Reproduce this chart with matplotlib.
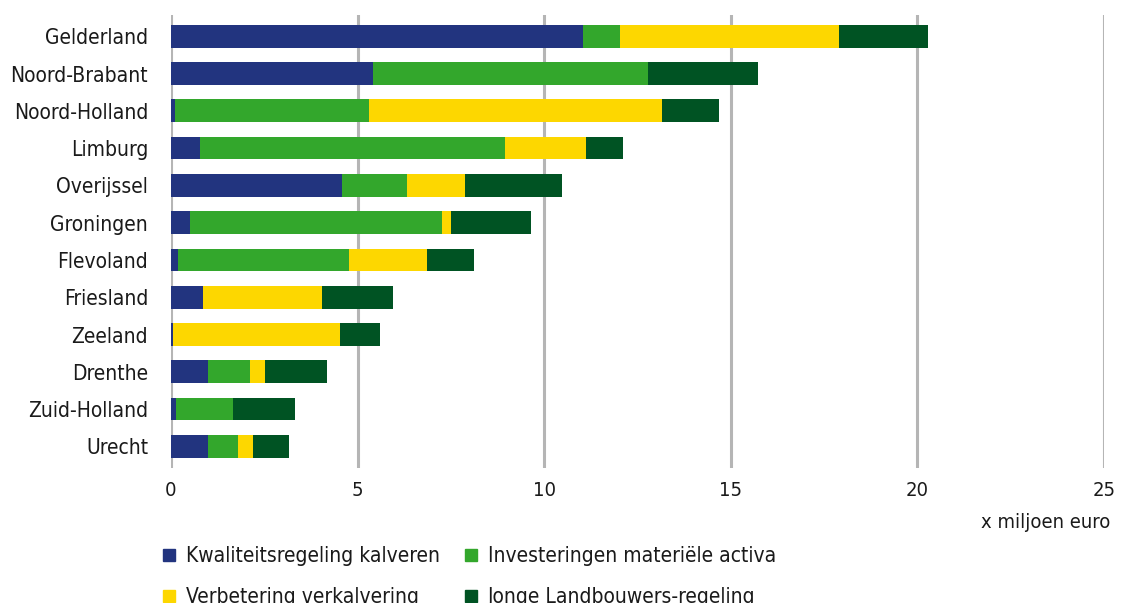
import numpy as np
import matplotlib.pyplot as plt
from matplotlib.lines import Line2D

provinces = ["Gelderland", "Noord-Brabant", "Noord-Holland", "Limburg", "Overijssel",
             "Groningen", "Flevoland", "Friesland", "Zeeland", "Drenthe",
             "Zuid-Holland", "Urecht"]
kwaliteit = [11.04, 5.42, 0.11, 0.77, 4.57, 0.51, 0.19, 0.86, 0.05, 0.99, 0.13, 0.99]
investering = [0.99, 7.36, 5.20, 8.19, 1.76, 6.74, 4.57, 0.0, 0.0, 1.12, 1.53, 0.80]
verkalvering = [5.88, 0.0, 7.85, 2.16, 1.55, 0.26, 2.11, 3.18, 4.47, 0.40, 0.0, 0.40]
jonge = [2.38, 2.94, 1.52, 0.99, 2.60, 2.14, 1.26, 1.92, 1.07, 1.66, 1.66, 0.97]

series = [
    ("Kwaliteitsregeling kalveren", kwaliteit, "#22347f"),
    ("Investeringen materiële activa", investering, "#33a72c"),
    ("Verbetering verkalvering", verkalvering, "#fdd700"),
    ("Jonge Landbouwers-regeling", jonge, "#005323"),
]

plt.rcParams['font.family'] = ['DejaVu Sans']
plt.rcParams['font.stretch'] = 'condensed'
plt.rcParams['font.size'] = 14.5

fig = plt.figure(figsize=(11.22, 6.03), dpi=100)
ax = fig.add_axes([171 / 1122, 1 - 468 / 603, (1104 - 171) / 1122, (468 - 15) / 603])

y = np.arange(len(provinces))
left = np.zeros(len(provinces))
for name, vals, color in series:
    vals = np.array(vals)
    ax.barh(y, vals, left=left, height=0.61, color=color, zorder=3)
    left += vals

ax.set_xlim(0, 25)
ax.set_ylim(11.58, -0.57)
ax.set_xticks(range(0, 26, 5))
ax.set_yticks(y)
ax.set_yticklabels(provinces, fontsize=15)
ax.tick_params(axis='x', length=0, pad=9, labelsize=14.5, labelcolor='#1a1a1a')
ax.tick_params(axis='y', length=0, pad=16.5, labelcolor='#1a1a1a')
ax.grid(axis='x', color='#b5b5b5', linewidth=2.2, zorder=0)
for s in ax.spines.values():
    s.set_visible(False)

fig.text(1110 / 1122, 1 - 522 / 603, "x miljoen euro", ha='right', va='center',
         fontsize=14.5, color='#1a1a1a')

handles = [Line2D([], [], marker='s', linestyle='none', markersize=8,
                  markerfacecolor=c, markeredgecolor=c) for _, _, c in series]
labels = [n for n, _, _ in series]
order = [0, 2, 1, 3]
fig.legend([handles[i] for i in order], [labels[i] for i in order], ncol=2,
           loc='upper left', bbox_to_anchor=(162 / 1122, 1 - 546 / 603),
           frameon=False, fontsize=15, handlelength=0.7, handletextpad=0.45,
           labelspacing=1.0, columnspacing=1.15, borderaxespad=0, borderpad=0,
           labelcolor='#1a1a1a')

fig.savefig("out.png", dpi=100)
